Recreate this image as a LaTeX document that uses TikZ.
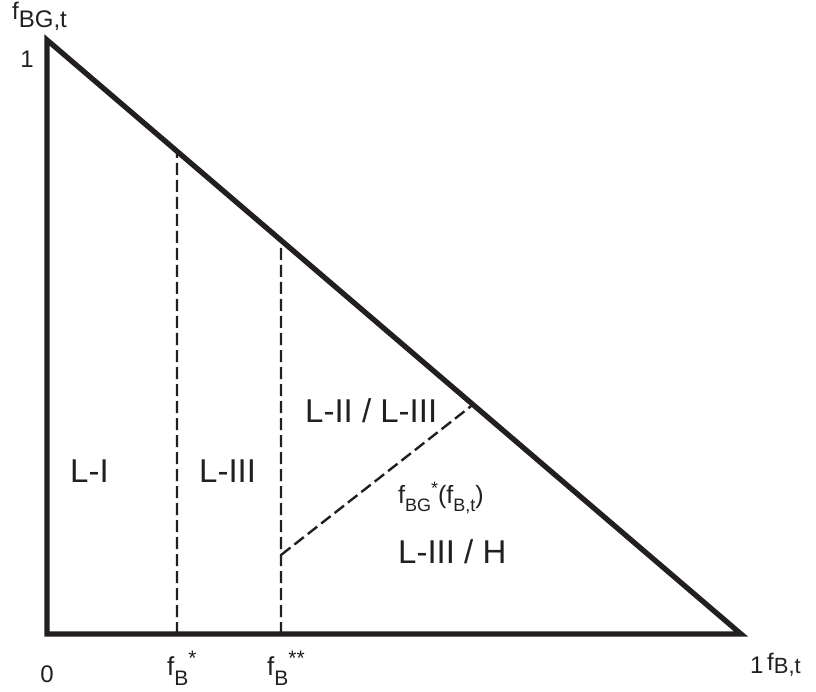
\documentclass[tikz,border=0pt]{standalone}
\usepackage{fontspec}
\setmainfont{Liberation Sans}
\usetikzlibrary{calc}
\definecolor{ink}{RGB}{35,31,32}
\newcommand\lowtxt[3]{\raisebox{-#1pt}{\fontsize{#2}{#2}\selectfont #3}}
\newcommand\hightxt[3]{\raisebox{#1pt}{\fontsize{#2}{#2}\selectfont #3}}
\begin{document}
\begin{tikzpicture}[x=1pt,y=-1pt,
  axisline/.style={line width=5.3pt, draw=ink, line join=miter},
  divider/.style={line width=2.4pt, draw=ink, dash pattern=on 12pt off 5pt},
  region/.style={font=\fontsize{33}{33}\selectfont, text=ink, inner sep=0pt},
  small/.style={font=\fontsize{24}{24}\selectfont, text=ink, inner sep=0pt}]
\useasboundingbox (0,0) rectangle (816,692);
\coordinate (O) at (47,634);
\coordinate (A) at (47,40);
\coordinate (R) at (741,634);
\draw[axisline] (A) -- (O) -- (R) -- cycle;
% dividers
\coordinate (H1) at ($(A)!0.1873!(R)$);
\coordinate (B1) at (177,634);
\coordinate (H2) at ($(A)!0.3372!(R)$);
\coordinate (B2) at (281,634);
\coordinate (H3) at ($(A)!0.6138!(R)$);
\coordinate (D0) at (281,555);
\draw[divider] (B1) -- (H1);
\draw[divider] (B2) -- (H2);
\draw[divider] (D0) -- (H3);
% axis labels
\node[small, anchor=base west] (ylab) at (12,20) {f\lowtxt{8}{24}{BG,t}};
\node[small, anchor=base east] (one1) at (34,68) {1};
\node[small, anchor=base] (zero) at (47,682) {0};
\node[small, anchor=base west] (one2) at (750,673) {1};
\node[small, anchor=base west] (xlab) at (767,670) {f\lowtxt{3}{22}{B,t}};
\node[small, anchor=base west] (fbs) at (167,675) {{\fontsize{26}{26}\selectfont f}\lowtxt{10}{21}{B}\hightxt{10}{21}{*}};
\node[small, anchor=base west] (fbss) at (267,675) {{\fontsize{26}{26}\selectfont f}\lowtxt{10}{21}{B}\hightxt{10}{21}{**}};
% region labels
\node[region, anchor=base west] (LI) at (70,482) {L-I};
\node[region, anchor=base west] (LIII) at (199,482) {L-III};
\node[region, anchor=base west] (LIIIII) at (305,422) {L-II / L-III};
\node[region, anchor=base west] (LIIIH) at (398,563) {L-III / H};
\node[small, anchor=base west] (fbg) at (398,503) {{\fontsize{25}{25}\selectfont f}\lowtxt{8}{18}{BG}\hightxt{9}{18}{*}{\fontsize{25}{25}\selectfont (f}\lowtxt{8}{18}{B,t}{\fontsize{25}{25}\selectfont )}};
\end{tikzpicture}
\end{document}
